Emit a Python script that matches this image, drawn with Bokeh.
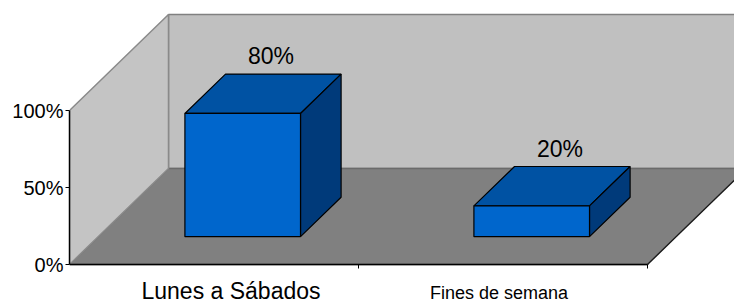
from bokeh.plotting import figure
from bokeh.models import Range1d, FixedTicker, ColumnDataSource
from bokeh.core.properties import value
from bokeh.embed import file_html
from bokeh.resources import INLINE

# ---- data ----
categories = ["Lunes a Sábados", "Fines de semana"]
values = [80, 20]
y_ticks = [0, 50, 100]
y_tick_labels = ["0%", "50%", "100%"]

# ---- layout / style ----
FONT = "Liberation Sans"
W, H = 734, 302
LEFT = 69
PX_X = 289.0          # px per category unit
PX_Y = 1.54           # px per percent
DEPTH_DX = 99 / PX_X  # full depth offset (data units)
DEPTH_DY = 96 / PX_Y
D0, D1 = 0.29, 0.70   # bar front / back depth fraction
HALF_W = 0.2
BASE_PX = 264         # figure pixel row of 0%
n = len(categories)
cat_font_sizes = ["23px", "18px"]
cat_dx_px = [17, -4]
cat_dy_px = [26, 28]  # label middle below the axis line

x_end = (W - LEFT) / PX_X
y_end = BASE_PX / PX_Y
y_start = -(H - BASE_PX) / PX_Y


def proj(x, y, d):
    return x + d * DEPTH_DX, y + d * DEPTH_DY


def poly(pts):
    xs, ys = zip(*[proj(*p) for p in pts])
    return list(xs), list(ys)


p = figure(width=W, height=H, x_range=Range1d(0, x_end), y_range=Range1d(y_start, y_end),
           x_axis_type=None, output_backend="svg", toolbar_location=None,
           min_border_left=LEFT, min_border_right=0, min_border_top=0, min_border_bottom=0)
p.grid.visible = False
p.outline_line_color = None
p.background_fill_color = "white"

top = y_ticks[-1]
# back wall
xs, ys = poly([(0, 0, 1), (n, 0, 1), (n, top, 1), (0, top, 1)])
p.patch(xs, ys, fill_color="#C0C0C0", line_color="#808080", line_width=1.5)
# floor
xs, ys = poly([(0, 0, 0), (n, 0, 0), (n, 0, 1), (0, 0, 1)])
p.patch(xs, ys, fill_color="#808080", line_color="#6A6A6A", line_width=1.5)
# left wall
xs, ys = poly([(0, 0, 0), (0, top, 0), (0, top, 1), (0, 0, 1)])
p.patch(xs, ys, fill_color="#C4C4C4", line_color="#8A8A8A", line_width=1.5)
# floor right edge
xs, ys = poly([(n, 0, 0), (n, 0, 1)])
p.line([x + 1.2 / PX_X for x in xs], ys, line_color="white", line_width=1)
p.line(xs, ys, line_color="#1A1A1A", line_width=1.3)

# x axis line and ticks
p.segment(x0=[0], y0=[0], x1=[n], y1=[0], line_color="black", line_width=1.5)
tick_x = [i + 1 for i in range(n)]
p.segment(x0=tick_x, y0=[0] * n, x1=tick_x, y1=[-4 / PX_Y] * n, line_color="black", line_width=1)

# bars
for i, v in enumerate(values):
    c = i + 0.5
    x0, x1 = c - HALF_W, c + HALF_W
    xs, ys = poly([(x0, v, D0), (x1, v, D0), (x1, v, D1), (x0, v, D1)])
    p.patch(xs, ys, fill_color="#0052A3", line_color="black", line_width=1.2)
    xs, ys = poly([(x1, 0, D0), (x1, v, D0), (x1, v, D1), (x1, 0, D1)])
    p.patch(xs, ys, fill_color="#003A7A", line_color="black", line_width=1.2)
    xs, ys = poly([(x0, 0, D0), (x1, 0, D0), (x1, v, D0), (x0, v, D0)])
    p.patch(xs, ys, fill_color="#0066CC", line_color="black", line_width=1.2)

# data labels
lab = ColumnDataSource(dict(
    x=[i + 0.5 + 0.5 * (D0 + D1) * DEPTH_DX + 8 / PX_X for i in range(n)],
    y=[v + D1 * DEPTH_DY + 18 / PX_Y for v in values],
    text=["%d%%" % v for v in values]))
p.text(x="x", y="y", text="text", source=lab, text_align="center", text_baseline="middle",
       text_font=value(FONT), text_font_size="23px", text_color="black")

# category labels
cat = ColumnDataSource(dict(
    x=[i + 0.5 + cat_dx_px[i] / PX_X for i in range(n)],
    y=[-cat_dy_px[i] / PX_Y for i in range(n)],
    text=categories,
    size=cat_font_sizes))
p.text(x="x", y="y", text="text", source=cat, text_align="center", text_baseline="middle",
       text_font=value(FONT), text_font_size="size", text_color="black")

# y axis
ax = p.yaxis[0]
ax.ticker = FixedTicker(ticks=y_ticks)
ax.major_label_overrides = {t: l for t, l in zip(y_ticks, y_tick_labels)}
ax.bounds = (0, top)
ax.axis_line_color = "black"
ax.axis_line_width = 1.5
ax.major_tick_out = 4
ax.major_tick_in = 0
ax.major_tick_line_color = "black"
ax.minor_tick_line_color = None
ax.major_label_standoff = 2
ax.major_label_text_font = FONT
ax.major_label_text_font_size = "20px"
ax.major_label_text_color = "black"

open("out.html", "w").write(file_html(p, INLINE))
